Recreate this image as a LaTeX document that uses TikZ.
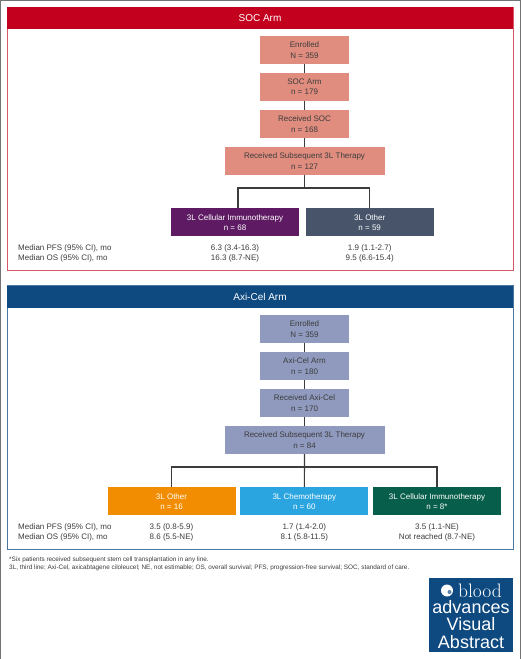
\documentclass[tikz,border=0pt]{standalone}
\usepackage{fontspec}
\setmainfont{Liberation Sans}
\definecolor{socred}{HTML}{C4001F}
\definecolor{socframe}{HTML}{D8586A}
\definecolor{socbox}{HTML}{E08D7F}
\definecolor{soccellc}{HTML}{5E1B63}
\definecolor{socotherc}{HTML}{47546A}
\definecolor{axiblue}{HTML}{0E4A80}
\definecolor{axiframe}{HTML}{4A78A0}
\definecolor{axibox}{HTML}{8F9ABE}
\definecolor{axiotherc}{HTML}{F28C00}
\definecolor{axichemoc}{HTML}{2AA5E0}
\definecolor{axicellc}{HTML}{075E4A}
\definecolor{inkc}{HTML}{3C3C3C}
\begin{document}
\begin{tikzpicture}[
        x=1pt, y=-1pt,
        every node/.style={font=\fontsize{8}{10.3}\selectfont, text=inkc, align=center},
        header/.style={minimum width=506pt, minimum height=22.5pt, inner sep=0pt, text=white, font=\fontsize{10}{10}\selectfont},
        panel/.style={line width=1pt},
        stepbox/.style={minimum width=89pt, minimum height=28pt, inner sep=0pt},
        widebox/.style={minimum width=160pt, minimum height=28pt, inner sep=0pt},
        armbox/.style={minimum width=128pt, minimum height=28pt, inner sep=0pt, text=white},
        conn/.style={draw=inkc, line width=1.2pt},
        result/.style={inner sep=0pt},
        rowlabel/.style={inner sep=0pt, anchor=west},
        footnote/.style={inner sep=0pt, anchor=west, font=\fontsize{6.4}{7}\selectfont},
        logotext/.style={inner sep=0pt, text=white}
    ]
        \useasboundingbox (0, 0) rectangle (520, 659);
        \draw[gray!90!black, line width=1pt] (0, 0) rectangle (520, 659);

        % SOC panel
        \draw[panel, draw=socframe, fill=white] (7, 7) rectangle (513, 270);
        \node[header, fill=socred] (socheader) at (260, 18) {SOC Arm};
        \node[stepbox, fill=socbox] (socenrolled) at (304.5, 50) {Enrolled\\N = 359};
        \node[stepbox, fill=socbox] (socarm) at (304.5, 87) {SOC Arm\\n = 179};
        \node[stepbox, fill=socbox] (socreceived) at (304.5, 124) {Received SOC\\n = 168};
        \node[widebox, fill=socbox] (socsub) at (304.5, 161) {Received Subsequent 3L Therapy\\n = 127};
        \node[armbox, fill=soccellc] (soccell) at (235, 222.3) {3L Cellular Immunotherapy\\n = 68};
        \node[armbox, fill=socotherc] (socother) at (369.7, 222.3) {3L Other\\n = 59};
        \coordinate (socjoin) at (304.5, 188);

        \draw[conn] (socenrolled) -- (socarm);
        \draw[conn] (socarm) -- (socreceived);
        \draw[conn] (socreceived) -- (socsub);
        \draw[conn] (socsub) -- (socjoin);
        \draw[conn] ([xshift=3pt]soccell.north) |- (socjoin);
        \draw[conn] (socother.north) |- (socjoin);

        \node[rowlabel] (socpfs) at (18, 248) {Median PFS (95\% CI), mo};
        \node[rowlabel] (socos) at (18, 258) {Median OS (95\% CI), mo};
        \node[result] (soccellpfs) at (235, 248) {6.3 (3.4-16.3)};
        \node[result] (soccellos) at (235, 258) {16.3 (8.7-NE)};
        \node[result] (socotherpfs) at (369.7, 248) {1.9 (1.1-2.7)};
        \node[result] (socotheros) at (369.7, 258) {9.5 (6.6-15.4)};

        % Axi-Cel panel
        \draw[panel, draw=axiframe, fill=white] (7, 285) rectangle (513, 549);
        \node[header, fill=axiblue] (axiheader) at (260, 297) {Axi-Cel Arm};
        \node[stepbox, fill=axibox] (axienrolled) at (304.5, 329) {Enrolled\\N = 359};
        \node[stepbox, fill=axibox] (axiarm) at (304.5, 366) {Axi-Cel Arm\\n = 180};
        \node[stepbox, fill=axibox] (axireceived) at (304.5, 403) {Received Axi-Cel\\n = 170};
        \node[widebox, fill=axibox] (axisub) at (304.5, 440) {Received Subsequent 3L Therapy\\n = 84};
        \node[armbox, fill=axiotherc] (axiother) at (171.5, 501.3) {3L Other\\n = 16};
        \node[armbox, fill=axichemoc] (axichemo) at (304.3, 501.3) {3L Chemotherapy\\n = 60};
        \node[armbox, fill=axicellc] (axicell) at (437, 501.3) {3L Cellular Immunotherapy\\n = 8*};
        \coordinate (axijoin) at (304.5, 467);

        \draw[conn] (axienrolled) -- (axiarm);
        \draw[conn] (axiarm) -- (axireceived);
        \draw[conn] (axireceived) -- (axisub);
        \draw[conn] (axisub) -- (axichemo);
        \draw[conn] (axiother.north) |- (axijoin);
        \draw[conn] (axicell.north) |- (axijoin);

        \node[rowlabel] (axipfs) at (18, 527) {Median PFS (95\% CI), mo};
        \node[rowlabel] (axios) at (18, 537) {Median OS (95\% CI), mo};
        \node[result] (axiotherpfs) at (171.5, 527) {3.5 (0.8-5.9)};
        \node[result] (axiotheros) at (171.5, 537) {8.6 (5.5-NE)};
        \node[result] (axichemopfs) at (304.3, 527) {1.7 (1.4-2.0)};
        \node[result] (axichemoos) at (304.3, 537) {8.1 (5.8-11.5)};
        \node[result] (axicellpfs) at (437, 527) {3.5 (1.1-NE)};
        \node[result] (axicellos) at (437, 537) {Not reached (8.7-NE)};

        % Notes
        \node[footnote] (noteone) at (9, 559.5) {*Six patients received subsequent stem cell transplantation in any line.};
        \node[footnote] (notetwo) at (9, 567.7) {3L, third line; Axi-Cel, axicabtagene ciloleucel; NE, not estimable; OS, overall survival; PFS, progression-free survival; SOC, standard of care.};

        % Logo
        \fill[axiblue] (429, 578) rectangle (513, 652);
        \fill[white] (447, 590.5) circle (6pt);
        \fill[axiblue!70] (449.5, 592) circle (2pt);
        \node[logotext, font=\fontfamily{lmr}\fontsize{19.5}{19}\selectfont] (logoblood) at (480, 591) {blood};
        \node[logotext, font=\fontsize{18}{17}\selectfont] (logoadv) at (471, 607.5) {advances};
        \node[logotext, font=\fontsize{18}{17}\selectfont] (logovisual) at (471, 624.5) {Visual};
        \node[logotext, font=\fontsize{18}{17}\selectfont] (logoabstract) at (471, 642) {Abstract};
    \end{tikzpicture}
\end{document}
